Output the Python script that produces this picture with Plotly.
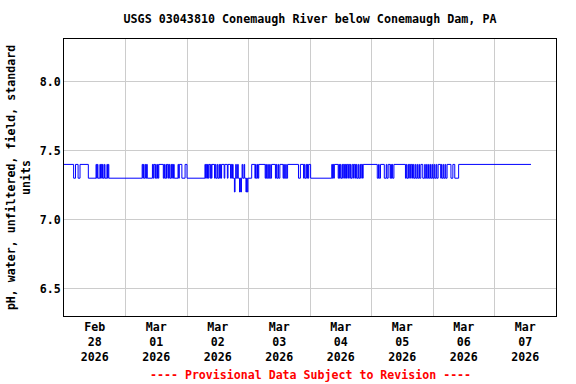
import pandas as pd
import plotly.graph_objects as go

title_text = "USGS 03043810 Conemaugh River below Conemaugh Dam, PA"
y_title = "pH, water, unfiltered, field, standard<br>units"
footer_text = "---- Provisional Data Subject to Revision ----"
start_time = "2026-02-28 00:00"
x_range = ["2026-02-28 00:00", "2026-03-08 00:00"]
y_ticks = [6.5, 7.0, 7.5, 8.0]

# change points (hours since start, pH value), drawn as a step series
ph_changes = [
    (0, 7.4), (3.75, 7.3), (4.5, 7.4), (5.5, 7.3), (6.25, 7.4), (9.5, 7.3),
    (12.5, 7.4), (12.75, 7.3), (13.0, 7.4), (13.25, 7.3), (14.0, 7.4), (14.25, 7.3),
    (14.5, 7.4), (14.75, 7.3), (15.0, 7.4), (15.25, 7.3), (15.75, 7.4), (16.0, 7.3),
    (16.75, 7.4), (17.0, 7.3), (17.25, 7.4), (17.5, 7.3),
    (30.5, 7.4), (30.75, 7.3), (31.0, 7.4), (31.25, 7.3), (31.75, 7.4), (32.0, 7.3),
    (32.25, 7.4), (32.5, 7.3), (34.5, 7.4), (34.75, 7.3), (35.0, 7.4), (35.5, 7.3),
    (35.75, 7.4), (36.0, 7.3), (36.5, 7.4), (36.75, 7.3), (37.0, 7.4), (38.75, 7.3),
    (39.0, 7.4), (39.25, 7.3), (39.75, 7.4), (40.0, 7.3), (40.25, 7.4), (40.75, 7.3),
    (41.0, 7.4), (41.25, 7.3), (41.75, 7.4), (42.0, 7.3), (42.25, 7.4), (42.5, 7.3),
    (42.75, 7.4), (43.0, 7.3), (44.5, 7.4), (44.75, 7.3), (45.0, 7.4), (46.0, 7.3),
    (47.25, 7.4), (48.0, 7.3),
    (55.0, 7.4), (55.25, 7.3), (55.5, 7.4), (55.75, 7.3), (56.0, 7.4), (56.25, 7.3),
    (56.5, 7.4), (57.0, 7.3), (57.25, 7.4), (57.5, 7.3), (57.75, 7.4), (58.75, 7.3),
    (59.0, 7.4), (59.25, 7.3), (59.75, 7.4), (60.0, 7.3), (60.5, 7.4), (60.75, 7.3),
    (61.0, 7.4), (61.25, 7.3), (61.5, 7.4), (62.5, 7.3), (62.75, 7.4), (63.75, 7.3),
    (64.0, 7.4), (65.0, 7.3), (65.25, 7.4), (65.5, 7.3), (65.75, 7.4), (66.0, 7.3),
    (66.5, 7.2), (66.75, 7.3), (67.0, 7.4), (67.25, 7.3), (67.75, 7.4), (68.0, 7.3),
    (68.5, 7.2), (68.75, 7.3), (69.0, 7.2), (69.25, 7.3), (69.5, 7.4), (69.75, 7.3),
    (70.25, 7.4), (70.5, 7.3), (71.0, 7.2), (71.25, 7.3), (71.5, 7.2), (71.75, 7.3),
    (73.25, 7.4), (74.5, 7.3), (74.75, 7.4), (75.0, 7.3), (75.5, 7.4), (75.75, 7.3),
    (76.0, 7.4), (78.5, 7.3), (78.75, 7.4), (79.0, 7.3), (79.5, 7.4), (79.75, 7.3),
    (80.25, 7.4), (80.5, 7.3), (81.0, 7.4), (82.5, 7.3), (82.75, 7.4), (83.0, 7.3),
    (83.5, 7.4), (83.75, 7.3), (84.25, 7.4), (85.5, 7.3), (85.75, 7.4), (86.0, 7.3),
    (86.5, 7.4), (86.75, 7.3), (87.25, 7.4), (91.5, 7.3), (92.25, 7.4), (93.5, 7.3),
    (93.75, 7.4), (94.0, 7.3), (94.5, 7.4), (94.75, 7.3), (95.0, 7.4), (95.25, 7.3),
    (95.5, 7.4), (96.25, 7.3),
    (104.5, 7.4), (104.75, 7.3), (105.0, 7.4), (105.25, 7.3), (105.5, 7.4), (107.0, 7.3),
    (107.25, 7.4), (107.5, 7.3), (107.75, 7.4), (108.0, 7.3), (108.5, 7.4), (108.75, 7.3),
    (109.0, 7.4), (109.5, 7.3), (109.75, 7.4), (110.0, 7.3), (110.25, 7.4), (110.75, 7.3),
    (111.0, 7.4), (111.5, 7.3), (111.75, 7.4), (112.0, 7.3), (112.5, 7.4), (113.0, 7.3),
    (113.25, 7.4), (113.75, 7.3), (114.0, 7.4), (114.25, 7.3), (114.75, 7.4), (115.0, 7.3),
    (115.5, 7.4), (115.75, 7.3), (116.0, 7.4), (116.5, 7.3), (116.75, 7.4), (122.25, 7.3),
    (122.75, 7.4), (123.0, 7.3), (123.5, 7.4), (125.0, 7.3), (125.75, 7.4), (126.0, 7.3),
    (126.5, 7.4), (127.25, 7.3), (127.5, 7.4), (127.75, 7.3), (128.0, 7.4), (128.25, 7.3),
    (128.75, 7.4), (133.25, 7.3), (133.5, 7.4), (133.75, 7.3), (134.25, 7.4), (134.5, 7.3),
    (134.75, 7.4), (135.25, 7.3), (135.5, 7.4), (136.0, 7.3), (136.25, 7.4), (136.5, 7.3),
    (137.0, 7.4), (137.25, 7.3), (137.75, 7.4), (138.0, 7.3), (138.5, 7.4), (138.75, 7.3),
    (139.25, 7.4), (140.0, 7.3), (140.75, 7.4), (141.0, 7.3), (141.5, 7.4), (141.75, 7.3),
    (142.25, 7.4), (142.5, 7.3), (143.0, 7.4), (143.25, 7.3), (143.75, 7.4), (144.0, 7.3),
    (144.5, 7.4), (144.75, 7.3), (145.25, 7.4), (145.5, 7.3), (146.0, 7.4), (147.0, 7.3),
    (147.25, 7.4), (147.5, 7.3), (148.0, 7.4), (148.25, 7.3), (148.75, 7.4), (149.0, 7.3),
    (149.5, 7.4), (151.0, 7.3), (151.75, 7.4), (152.5, 7.3), (154.0, 7.4), (182.25, 7.4),
]

hours = [h for h, _ in ph_changes]
vals = [v for _, v in ph_changes]
times = pd.Timestamp(start_time) + pd.to_timedelta(hours, unit="h")

FONT = "DejaVu Sans Mono"

fig = go.Figure()
fig.add_trace(go.Scatter(
    x=times, y=vals, mode="lines", line=dict(color="#0000ff", width=1, shape="hv"),
    showlegend=False, hoverinfo="skip",
))

fig.update_layout(
    width=576, height=384,
    margin=dict(l=64, r=20, t=39, b=68, autoexpand=False),
    paper_bgcolor="white", plot_bgcolor="white",
    font=dict(family=FONT, size=11.6, color="black", weight="bold"),
    title=dict(text=title_text, x=0.5, xref="paper", y=1 - 19 / 384, yref="container",
               xanchor="center", yanchor="middle",
               font=dict(family=FONT, size=11.7, color="black", weight="bold")),
    xaxis=dict(
        type="date", range=x_range, dtick=86400000, tick0="2026-02-28",
        ticklabelmode="period", tickformat="%b<br>%d<br>%Y",
        showgrid=True, gridcolor="#cccccc", gridwidth=1,
        showline=True, linecolor="black", linewidth=1, mirror=True,
        ticks="", zeroline=False, automargin=False,
        tickfont=dict(family=FONT, size=11.6, color="black", weight="bold"),
    ),
    yaxis=dict(
        range=[6.3, 8.31], tickvals=y_ticks, ticktext=[f"{v:.1f}" for v in y_ticks],
        showgrid=True, gridcolor="#cccccc", gridwidth=1,
        showline=True, linecolor="black", linewidth=1, mirror=True,
        ticks="", zeroline=False, automargin=False,
        tickfont=dict(family=FONT, size=11.6, color="black", weight="bold"),
        title=dict(text=y_title, standoff=6,
                   font=dict(family=FONT, size=11.6, color="black", weight="bold")),
    ),
    annotations=[dict(
        text=footer_text, xref="paper", yref="paper", x=0.5, y=0, yshift=-59,
        xanchor="center", yanchor="middle", showarrow=False,
        font=dict(family=FONT, size=11.6, color="red", weight="bold"),
    )],
)

fig.write_html("out.html", config={"displayModeBar": False},
               post_script="document.body.style.margin='0';")
